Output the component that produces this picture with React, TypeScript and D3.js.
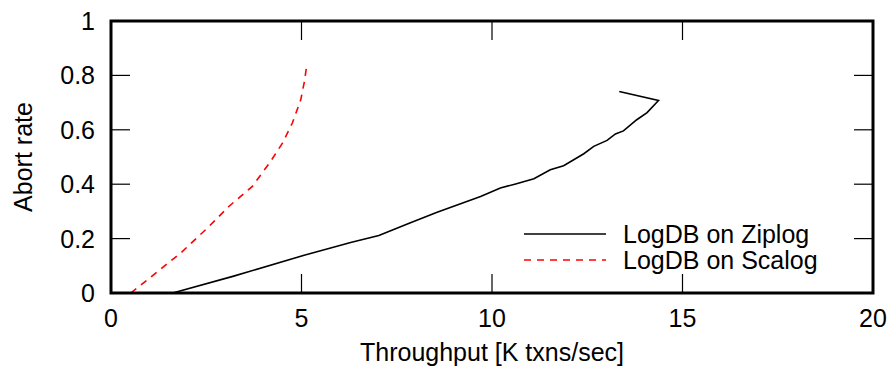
import * as d3 from 'd3'

// Throughput [K txns/sec] vs abort rate
const ziplogX = [1.62, 3.22, 5.07, 6.29, 7.03, 7.86, 8.56, 9.7, 10.22, 10.62, 11.1, 11.53, 11.88, 12.41, 12.67, 13.02, 13.24, 13.45, 13.8, 14.07, 14.37, 13.34]
const ziplogY = [0, 0.062, 0.139, 0.186, 0.211, 0.258, 0.297, 0.355, 0.386, 0.401, 0.42, 0.453, 0.468, 0.512, 0.539, 0.561, 0.585, 0.596, 0.637, 0.663, 0.708, 0.741]

const scalogX = [0.52, 1.18, 1.83, 2.53, 3.1, 3.71, 4.19, 4.5, 4.76, 4.98, 5.08, 5.13]
const scalogY = [0, 0.074, 0.147, 0.239, 0.319, 0.392, 0.484, 0.551, 0.625, 0.71, 0.78, 0.83]

const xTicks = [0, 5, 10, 15, 20]
const yTicks = [0, 0.2, 0.4, 0.6, 0.8, 1]

const series = [
  { name: 'LogDB on Ziplog', xs: ziplogX, ys: ziplogY, color: '#000000', dash: null },
  { name: 'LogDB on Scalog', xs: scalogX, ys: scalogY, color: '#ff0000', dash: '7,6' },
]

const W = 893
const H = 367
const margin = { top: 21, right: 20, bottom: 74, left: 111 }
const FONT = '"Liberation Sans", Arial, Helvetica, sans-serif'
const FS = 25

export default function App() {
  const innerW = 873 - margin.left
  const innerH = H - margin.top - margin.bottom

  const x = d3.scaleLinear().domain([0, 20]).range([0, innerW])
  const y = d3.scaleLinear().domain([0, 1]).range([innerH, 0])
  const tickLen = 19

  const line = d3.line<[number, number]>()
    .x((d) => x(d[0]))
    .y((d) => y(d[1]))

  return (
    <svg width={W} height={H} style={{ position: 'absolute', left: 0, top: 0, background: '#fff' }} fontFamily={FONT}>
      <g transform={`translate(${margin.left},${margin.top})`}>
        {/* ticks, mirrored on all sides, pointing inward */}
        {xTicks.map((t) => (
          <g key={'x' + t}>
            <line x1={x(t)} x2={x(t)} y1={innerH} y2={innerH - tickLen} stroke="#000" strokeWidth={1.2} />
            <line x1={x(t)} x2={x(t)} y1={0} y2={tickLen} stroke="#000" strokeWidth={1.2} />
            <text x={x(t)} y={innerH + 34} textAnchor="middle" fontSize={FS}>{t}</text>
          </g>
        ))}
        {yTicks.map((t) => (
          <g key={'y' + t}>
            <line x1={0} x2={tickLen} y1={y(t)} y2={y(t)} stroke="#000" strokeWidth={1.2} />
            <line x1={innerW} x2={innerW - tickLen} y1={y(t)} y2={y(t)} stroke="#000" strokeWidth={1.2} />
            <text x={-16} y={y(t) + 9} textAnchor="end" fontSize={FS}>{t}</text>
          </g>
        ))}

        {/* series */}
        {series.map((s) => (
          <path
            key={s.name}
            d={line(s.xs.map((v, i) => [v, s.ys[i]] as [number, number])) || ''}
            fill="none"
            stroke={s.color}
            strokeWidth={1.6}
            strokeDasharray={s.dash || undefined}
          />
        ))}

        {/* legend */}
        {series.map((s, i) => (
          <g key={'leg' + s.name} transform={`translate(0,${213 + i * 26})`}>
            <line x1={413} x2={495} y1={0} y2={0} stroke={s.color} strokeWidth={1.6} strokeDasharray={s.dash || undefined} />
            <text x={512} y={9} fontSize={FS}>{s.name}</text>
          </g>
        ))}

        {/* frame */}
        <rect x={0} y={0} width={innerW} height={innerH} fill="none" stroke="#000" strokeWidth={3} />
      </g>

      <text x={margin.left + innerW / 2} y={361} textAnchor="middle" fontSize={FS}>Throughput [K txns/sec]</text>
      <text transform={`translate(32,${margin.top + innerH / 2}) rotate(-90)`} textAnchor="middle" fontSize={FS}>Abort rate</text>
    </svg>
  )
}
